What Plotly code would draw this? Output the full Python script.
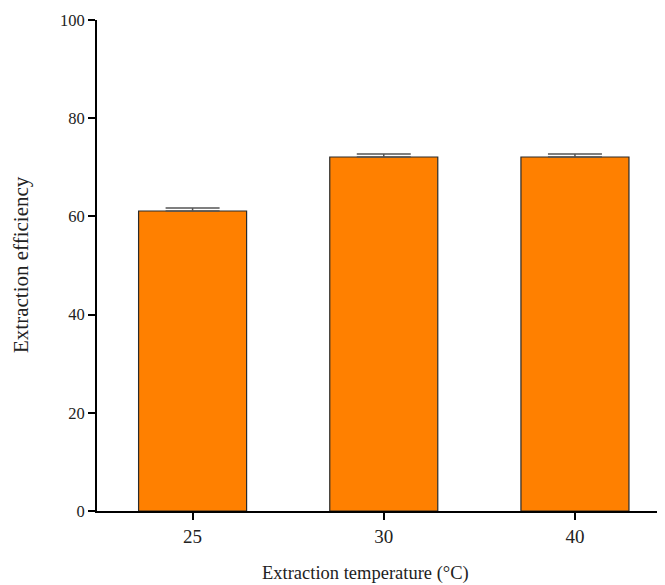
import plotly.graph_objects as go

categories = ["25", "30", "40"]
values = [61.1, 72.1, 72.1]
errors = [0.6, 0.6, 0.6]
y_ticks = [0, 20, 40, 60, 80, 100]

font_family = "Liberation Serif"

fig = go.Figure()
fig.add_trace(go.Bar(
    x=categories, y=values,
    width=0.565,
    marker=dict(color="#FF8000", line=dict(color="#2a2a2a", width=1.2)),
    error_y=dict(type="data", array=errors, arrayminus=[0, 0, 0], visible=True,
                 color="#555555", thickness=1.5, width=27),
))

# page body has an 8px default margin; compensate so plot area sits at x 97..665, y 20..511
fig.update_layout(
    width=657, height=577,
    margin=dict(l=89, r=0, t=12, b=74, autoexpand=False),
    plot_bgcolor="white", paper_bgcolor="white",
    showlegend=False,
    font=dict(family=font_family, color="#222", size=16),
    xaxis=dict(
        type="category", range=[-0.5, 2.471], automargin=False,
        showline=True, linecolor="black", linewidth=2,
        ticks="outside", ticklen=7, tickwidth=2, tickcolor="black",
        showgrid=False, zeroline=False,
        tickfont=dict(size=19, family=font_family, color="#222"),
    ),
    yaxis=dict(
        range=[0, 100], tickvals=y_ticks, automargin=False,
        showline=True, linecolor="black", linewidth=2,
        ticks="outside", ticklen=7, tickwidth=2, tickcolor="black",
        showgrid=False, zeroline=False,
        tickfont=dict(size=16.5, family=font_family, color="#222"),
    ),
    annotations=[
        dict(text="Extraction temperature (°C)", xref="paper", yref="paper",
             x=(365 - 97) / 568, y=-(573 - 511) / 491, xanchor="center", yanchor="middle",
             showarrow=False, font=dict(size=18.5, family=font_family, color="#222")),
        dict(text="Extraction efficiency", xref="paper", yref="paper",
             x=-(97 - 21) / 568, y=(511 - 265) / 491, xanchor="center", yanchor="middle",
             textangle=-90, showarrow=False, font=dict(size=21, family=font_family, color="#222")),
    ],
)
fig.write_html("out.html")
